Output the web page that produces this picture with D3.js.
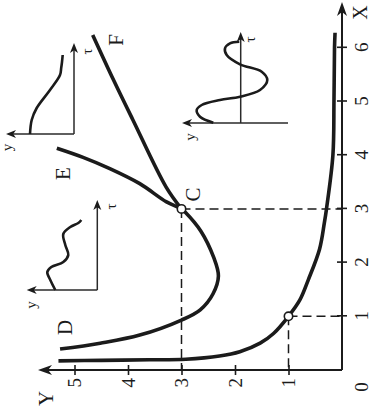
<!DOCTYPE html>
<html>
<head>
<meta charset="utf-8">
<script src="https://cdn.jsdelivr.net/npm/d3@7"></script>
<style>
  html, body { margin: 0; padding: 0; background: #fff; }
  svg { display: block; }
</style>
</head>
<body>
<script>
// ---- data ----------------------------------------------------------
// lower branch passing through (1, 1)
const lowX = [0.17, 0.18, 0.19, 0.2, 0.26, 0.34, 0.5, 0.68, 1.0, 1.3, 1.68, 2.25, 2.74, 3.0, 4.0, 5.0, 6.0, 6.28];
const lowY = [5.3, 4.5, 3.6, 2.92, 2.29, 1.91, 1.53, 1.28, 1.0, 0.79, 0.63, 0.42, 0.33, 0.29, 0.17, 0.15, 0.14, 0.13];
// D – C – E branch
const dceX = [0.39, 0.5, 0.65, 0.93, 1.12, 1.42, 1.75, 2.1, 2.59, 2.93, 3.0, 3.13, 3.47, 3.75, 3.96, 4.13];
const dceY = [5.27, 4.52, 3.78, 3.0, 2.65, 2.41, 2.31, 2.4, 2.64, 2.92, 3.0, 3.28, 3.78, 4.34, 4.84, 5.33];
// C – F branch
const cfX = [3.0, 3.41, 4.66, 5.4, 6.24];
const cfY = [3.0, 3.29, 3.91, 4.27, 4.66];
// marked points and their guide lines
const markX = [1, 3];
const markY = [1, 3];
// axis ticks
const xTicks = [1, 2, 3, 4, 5, 6];
const yTicks = [1, 2, 3, 4, 5];
// small y(τ) sketches (τ and y in sketch pixels)
const sketchA_t = [0, 14, 26, 44, 59, 66, 72, 79];
const sketchA_y = [44, 42.3, 37.3, 24, 14, 12.8, 12, 11.3];
const sketchB_t = [0.3, 6.3, 13, 18, 23, 26.3, 33, 43, 51.3, 58.7, 68, 74.7, 79.7, 81.3];
const sketchB_y = [27.4, 40.7, 44, 39, 20.7, 0.7, -19.3, -26.6, -21, 0.7, 14, 15.7, 10.7, 1.4];
const sketchC_t = [0, 10, 18, 23, 28, 35, 45, 56, 63, 67, 70];
const sketchC_y = [42, 47, 50, 46, 34, 29, 32, 34, 27, 19, 16];

// ---- layout --------------------------------------------------------
const W = 372, H = 412;
const ink = "#1b1b1b";
const serif = "'Liberation Serif', 'Times New Roman', serif";

const svg = d3.select("body").append("svg")
  .attr("width", W).attr("height", H);
svg.append("rect").attr("width", W).attr("height", H).attr("fill", "#fff");

// the figure is laid out in a landscape frame and turned a quarter turn
const g = svg.append("g").attr("transform", `translate(0,${H}) rotate(-90)`);

const x = d3.scaleLinear().domain([0, 6]).range([42, 364.2]);
const y = d3.scaleLinear().domain([0, 5]).range([342, 74.5]);

function arrowHead(sel, tx, ty, angle, len, half) {
  sel.append("path")
    .attr("d", `M0,0 L${-len},${-half} L${-len * 0.72},0 L${-len},${half} Z`)
    .attr("transform", `translate(${tx},${ty}) rotate(${angle})`)
    .attr("fill", ink);
}

// ---- axes ----------------------------------------------------------
const xAxis = d3.axisBottom(x).tickValues(xTicks).tickSize(10).tickPadding(8)
  .tickFormat(d3.format("d"));
const gx = g.append("g").attr("transform", `translate(0,${y(0) - 5})`).call(xAxis);
gx.select(".domain").remove();
gx.selectAll(".tick line").attr("stroke", ink).attr("stroke-width", 1.6);
gx.selectAll(".tick text").attr("fill", ink).style("font-family", serif).style("font-size", "19px");

const yAxis = d3.axisLeft(y).tickValues(yTicks).tickSize(10).tickPadding(3)
  .tickFormat(d3.format("d"));
const gy = g.append("g").attr("transform", `translate(${x(0) + 5},0)`).call(yAxis);
gy.select(".domain").remove();
gy.selectAll(".tick line").attr("stroke", ink).attr("stroke-width", 1.6);
gy.selectAll(".tick text").attr("fill", ink).style("font-family", serif).style("font-size", "19px");

// axis lines with arrows
g.append("line").attr("x1", x(0)).attr("y1", y(0)).attr("x2", 404).attr("y2", y(0))
  .attr("stroke", ink).attr("stroke-width", 2);
arrowHead(g, 410, y(0), 0, 14, 5);
g.append("line").attr("x1", x(0)).attr("y1", y(0)).attr("x2", x(0)).attr("y2", 44)
  .attr("stroke", ink).attr("stroke-width", 2);
arrowHead(g, x(0), 38, -90, 14, 5);

const txt = (s, u, v, size, anchor) => g.append("text")
  .attr("x", u).attr("y", v).attr("text-anchor", anchor || "middle")
  .style("font-family", serif).style("font-size", size + "px").attr("fill", ink).text(s);

txt("0", 25, 368, 19);
txt("X", 399.5, 367, 20);
txt("Y", 13.5, 53, 21);

// ---- guides --------------------------------------------------------
markX.forEach((mx, i) => {
  const my = markY[i];
  g.append("line").attr("x1", x(mx)).attr("y1", y(my)).attr("x2", x(mx)).attr("y2", y(0))
    .attr("stroke", ink).attr("stroke-width", 1.5).attr("stroke-dasharray", "9,5");
  g.append("line").attr("x1", x(mx)).attr("y1", y(my)).attr("x2", x(0)).attr("y2", y(my))
    .attr("stroke", ink).attr("stroke-width", 1.5).attr("stroke-dasharray", "9,5");
});

// ---- curves --------------------------------------------------------
const line = d3.line().x(d => x(d[0])).y(d => y(d[1])).curve(d3.curveCatmullRom.alpha(0.5));
const zip = (a, b) => a.map((v, i) => [v, b[i]]);

[[lowX, lowY], [dceX, dceY], [cfX, cfY]].forEach(([a, b]) => {
  g.append("path").attr("d", line(zip(a, b)))
    .attr("fill", "none").attr("stroke", ink).attr("stroke-width", 3.6);
});

markX.forEach((mx, i) => {
  g.append("circle").attr("cx", x(mx)).attr("cy", y(markY[i])).attr("r", 4.2)
    .attr("fill", "#fff").attr("stroke", ink).attr("stroke-width", 1.6);
});

txt("C", 217.5, 200, 21);
txt("D", 84.5, 72, 21);
txt("E", 238.5, 70, 21);
txt("F", 372, 123, 21);

// ---- y(τ) sketches -------------------------------------------------
function sketch(u0, v0, yLow, yHigh, tLen, ts, ys, tauPos, yPos) {
  const t = d3.scaleLinear().domain([0, tLen]).range([u0, u0 + tLen]);
  const s = d3.scaleLinear().domain([0, 1]).range([v0, v0 - 1]);
  const grp = g.append("g");
  grp.append("line").attr("x1", t(0)).attr("y1", s(0)).attr("x2", t(tLen) - 6).attr("y2", s(0))
    .attr("stroke", "#2a2a2a").attr("stroke-width", 1.5);
  arrowHead(grp, t(tLen), s(0), 0, 10, 4);
  grp.append("line").attr("x1", t(0)).attr("y1", s(yLow)).attr("x2", t(0)).attr("y2", s(yHigh) + 6)
    .attr("stroke", "#2a2a2a").attr("stroke-width", 1.5);
  arrowHead(grp, t(0), s(yHigh), -90, 10, 4);
  const ln = d3.line().x(d => t(d[0])).y(d => s(d[1])).curve(d3.curveCatmullRom.alpha(0.5));
  grp.append("path").attr("d", ln(zip(ts, ys)))
    .attr("fill", "none").attr("stroke", ink).attr("stroke-width", 2.6);
  grp.append("text").attr("x", tauPos[0]).attr("y", tauPos[1]).attr("text-anchor", "middle")
    .style("font-family", serif).style("font-size", "15px").attr("fill", ink).text("τ");
  grp.append("text").attr("x", yPos[0]).attr("y", yPos[1]).attr("text-anchor", "middle")
    .style("font-family", serif).style("font-size", "15px").attr("fill", ink).text("y");
}

sketch(278, 74, 0, 68, 91, sketchA_t, sketchA_y, [360.5, 92], [264.5, 12]);
sketch(289, 240.7, -47.3, 58.7, 91, sketchB_t, sketchB_y, [372.5, 255], [275, 195]);
sketch(122, 97.3, 0, 70.6, 90, sketchC_t, sketchC_y, [205.5, 116], [107, 36]);
</script>
</body>
</html>
